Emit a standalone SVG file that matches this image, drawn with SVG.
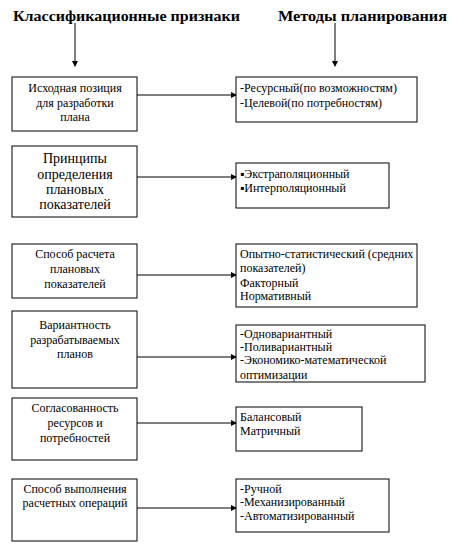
<svg xmlns="http://www.w3.org/2000/svg" width="455" height="553" viewBox="0 0 455 553" font-family="Liberation Serif, serif">
<style>
.t{font-size:14px;font-weight:bold}
.s{font-size:12px}
.b{font-size:14px}
.c{text-anchor:middle}
rect{fill:#fff;stroke:#000;stroke-width:1}
line{stroke:#000;stroke-width:1}
</style>
<defs>
<marker id="ah" markerWidth="6" markerHeight="6" refX="5" refY="3" orient="auto" markerUnits="userSpaceOnUse">
<path d="M0,0 L6,3 L0,6 Z" fill="#000"/>
</marker>
</defs>
<g id="titles">
<text class="t" x="13" y="21" textLength="227" lengthAdjust="spacingAndGlyphs">Классификационные признаки</text>
<text class="t" x="278" y="21" textLength="169" lengthAdjust="spacingAndGlyphs">Методы планирования</text>
</g>
<g id="connectors">
<line x1="75" y1="23" x2="75" y2="66" marker-end="url(#ah)"/>
<line x1="335" y1="23" x2="335" y2="66" marker-end="url(#ah)"/>
<line x1="137" y1="95" x2="236" y2="95" marker-end="url(#ah)"/>
<line x1="137" y1="177" x2="236" y2="177" marker-end="url(#ah)"/>
<line x1="137" y1="275" x2="236" y2="275" marker-end="url(#ah)"/>
<line x1="137" y1="357" x2="236" y2="357" marker-end="url(#ah)"/>
<line x1="137" y1="423" x2="236" y2="423" marker-end="url(#ah)"/>
<line x1="137" y1="508" x2="236" y2="508" marker-end="url(#ah)"/>
</g>
<g id="n1">
<rect x="12" y="77" width="125" height="54"/>
<text class="s c" x="75" y="92">Исходная позиция</text>
<text class="s c" x="75" y="107">для разработки</text>
<text class="s c" x="75" y="121">плана</text>
</g>
<g id="m1">
<rect x="236" y="77" width="181" height="45"/>
<text class="s" x="240" y="92">-Ресурсный(по возможностям)</text>
<text class="s" x="240" y="107">-Целевой(по потребностям)</text>
</g>
<g id="n2">
<rect x="12" y="146" width="125" height="71"/>
<text class="b c" x="75" y="163">Принципы</text>
<text class="b c" x="75" y="179">определения</text>
<text class="b c" x="75" y="194">плановых</text>
<text class="b c" x="75" y="209">показателей</text>
</g>
<g id="m2">
<rect x="236" y="163" width="153" height="45"/>
<text class="s" x="240" y="178">▪Экстраполяционный</text>
<text class="s" x="240" y="192">▪Интерполяционный</text>
</g>
<g id="n3">
<rect x="12" y="244" width="125" height="54"/>
<text class="s c" x="75" y="258">Способ расчета</text>
<text class="s c" x="75" y="273">плановых</text>
<text class="s c" x="75" y="288">показателей</text>
</g>
<g id="m3">
<rect x="236" y="244" width="181" height="63"/>
<text class="s" x="240" y="258">Опытно-статистический (средних</text>
<text class="s" x="240" y="272">показателей)</text>
<text class="s" x="240" y="287">Факторный</text>
<text class="s" x="240" y="300">Нормативный</text>
</g>
<g id="n4">
<rect x="12" y="311" width="125" height="77"/>
<text class="s c" x="75" y="329">Вариантность</text>
<text class="s c" x="75" y="344">разрабатываемых</text>
<text class="s c" x="75" y="358">планов</text>
</g>
<g id="m4">
<rect x="236" y="325" width="189" height="57"/>
<text class="s" x="240" y="338">-Одновариантный</text>
<text class="s" x="240" y="351">-Поливариантный</text>
<text class="s" x="240" y="364">-Экономико-математической</text>
<text class="s" x="240" y="379">оптимизации</text>
</g>
<g id="n5">
<rect x="12" y="398" width="125" height="62"/>
<text class="s c" x="75" y="412">Согласованность</text>
<text class="s c" x="75" y="427">ресурсов и</text>
<text class="s c" x="75" y="442">потребностей</text>
</g>
<g id="m5">
<rect x="236" y="407" width="126" height="44"/>
<text class="s" x="240" y="421">Балансовый</text>
<text class="s" x="240" y="435">Матричный</text>
</g>
<g id="n6">
<rect x="12" y="479" width="125" height="62"/>
<text class="s c" x="75" y="493">Способ выполнения</text>
<text class="s c" x="75" y="507">расчетных операций</text>
</g>
<g id="m6">
<rect x="236" y="479" width="153" height="53"/>
<text class="s" x="240" y="493">-Ручной</text>
<text class="s" x="240" y="506">-Механизированный</text>
<text class="s" x="240" y="520">-Автоматизированный</text>
</g>
</svg>
